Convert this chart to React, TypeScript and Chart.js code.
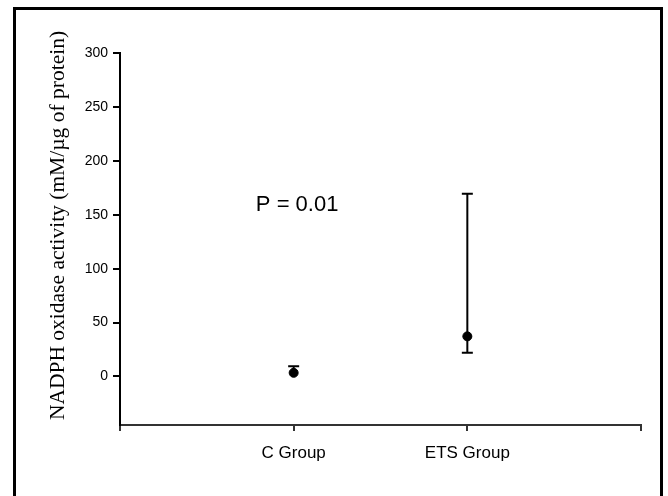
import React, { useEffect, useRef } from 'react';
import { Chart, registerables } from 'chart.js';

Chart.register(...registerables);

const categories = ['C Group', 'ETS Group'];
const means = [3.4, 37.2];
const errUpper: (number | null)[] = [9.6, 169.5];
const errLower: (number | null)[] = [null, 22];
const yTicks = [0, 50, 100, 150, 200, 250, 300];
const xTicks = [0, 1, 2, 3];
const yTitle = 'NADPH oxidase activity (mM/µg of protein)';
const pLabel = 'P = 0.01';
const pLabelAt = { x: 1.02, y: 159 };
const yTitleAtValue = 140;

export default function App() {
  const ref = useRef<HTMLCanvasElement | null>(null);

  useEffect(() => {
    if (!ref.current) return;

    const errorBars = {
      id: 'errorBars',
      beforeDatasetsDraw(chart: any) {
        const { ctx, scales } = chart;
        const xs = scales.x;
        const ys = scales.y;
        ctx.save();
        ctx.strokeStyle = '#000';
        ctx.lineWidth = 2;
        means.forEach((m, i) => {
          const px = xs.getPixelForValue(i + 1);
          const pm = ys.getPixelForValue(m);
          const cap = 5.5;
          const hi = errUpper[i];
          const lo = errLower[i];
          if (hi != null) {
            const ph = ys.getPixelForValue(hi);
            ctx.beginPath();
            ctx.moveTo(px, pm);
            ctx.lineTo(px, ph);
            ctx.moveTo(px - cap, ph);
            ctx.lineTo(px + cap, ph);
            ctx.stroke();
          }
          if (lo != null) {
            const pl = ys.getPixelForValue(lo);
            ctx.beginPath();
            ctx.moveTo(px, pm);
            ctx.lineTo(px, pl);
            ctx.moveTo(px - cap, pl);
            ctx.lineTo(px + cap, pl);
            ctx.stroke();
          }
        });
        ctx.restore();
      },
      afterDraw(chart: any) {
        const { ctx, scales, chartArea } = chart;
        ctx.save();
        ctx.fillStyle = '#000';
        // P value annotation
        ctx.font = '22px "Liberation Sans", Arial, sans-serif';
        ctx.textAlign = 'center';
        ctx.textBaseline = 'middle';
        ctx.fillText(pLabel, scales.x.getPixelForValue(pLabelAt.x), scales.y.getPixelForValue(pLabelAt.y));
        // Y title
        ctx.translate(chartArea.left - 62, scales.y.getPixelForValue(yTitleAtValue));
        ctx.rotate(-Math.PI / 2);
        ctx.font = '21.5px "Liberation Serif", "Times New Roman", serif';
        ctx.fillText(yTitle, 0, 0);
        ctx.restore();
      },
    };

    const chart = new Chart(ref.current, {
      type: 'scatter',
      data: {
        datasets: [
          {
            data: means.map((m, i) => ({ x: i + 1, y: m })),
            backgroundColor: '#000',
            borderColor: '#000',
            pointRadius: 4.5,
            pointHoverRadius: 4.5,
          },
        ],
      },
      options: {
        animation: false,
        responsive: false,
        maintainAspectRatio: false,
        layout: { padding: { top: 53, right: 27, left: 0, bottom: 0 } },
        plugins: { legend: { display: false }, tooltip: { enabled: false }, title: { display: false } },
        scales: {
          x: {
            type: 'linear',
            min: 0,
            max: 3,
            afterBuildTicks: (scale: any) => {
              scale.ticks = xTicks.map((v) => ({ value: v }));
            },
            afterFit: (scale: any) => {
              scale.height = 71;
            },
            grid: { drawOnChartArea: false, drawTicks: true, tickLength: 6, color: '#333', lineWidth: 2 },
            border: { display: true, color: '#333', width: 2 },
            ticks: {
              padding: 12,
              color: '#000',
              font: { family: '"Liberation Sans", Arial, sans-serif', size: 17 },
              maxRotation: 0,
              autoSkip: false,
              callback: (v: any) => categories[Number(v) - 1] ?? '',
            },
          },
          y: {
            type: 'linear',
            min: -45,
            max: 300,
            afterBuildTicks: (scale: any) => {
              scale.ticks = yTicks.map((v) => ({ value: v }));
            },
            afterFit: (scale: any) => {
              scale.width = 120;
            },
            grid: { drawOnChartArea: false, drawTicks: true, tickLength: 7, color: '#000', lineWidth: 2 },
            border: { display: true, color: '#000', width: 2 },
            ticks: {
              padding: 5,
              color: '#000',
              font: { family: '"Liberation Sans", Arial, sans-serif', size: 14 },
              autoSkip: false,
            },
          },
        },
      },
      plugins: [errorBars],
    });

    return () => chart.destroy();
  }, []);

  return (
    <div style={{ position: 'absolute', left: 0, top: 0, width: 668, height: 496, background: '#fff', overflow: 'hidden' }}>
      <div
        style={{
          position: 'absolute',
          left: 13,
          top: 7,
          width: 650,
          height: 520,
          boxSizing: 'border-box',
          borderTop: '3px solid #000',
          borderLeft: '3px solid #000',
          borderRight: '3px solid #000',
        }}
      />
      <canvas ref={ref} width={668} height={496} style={{ position: 'absolute', left: 0, top: 0, width: 668, height: 496 }} />
    </div>
  );
}
